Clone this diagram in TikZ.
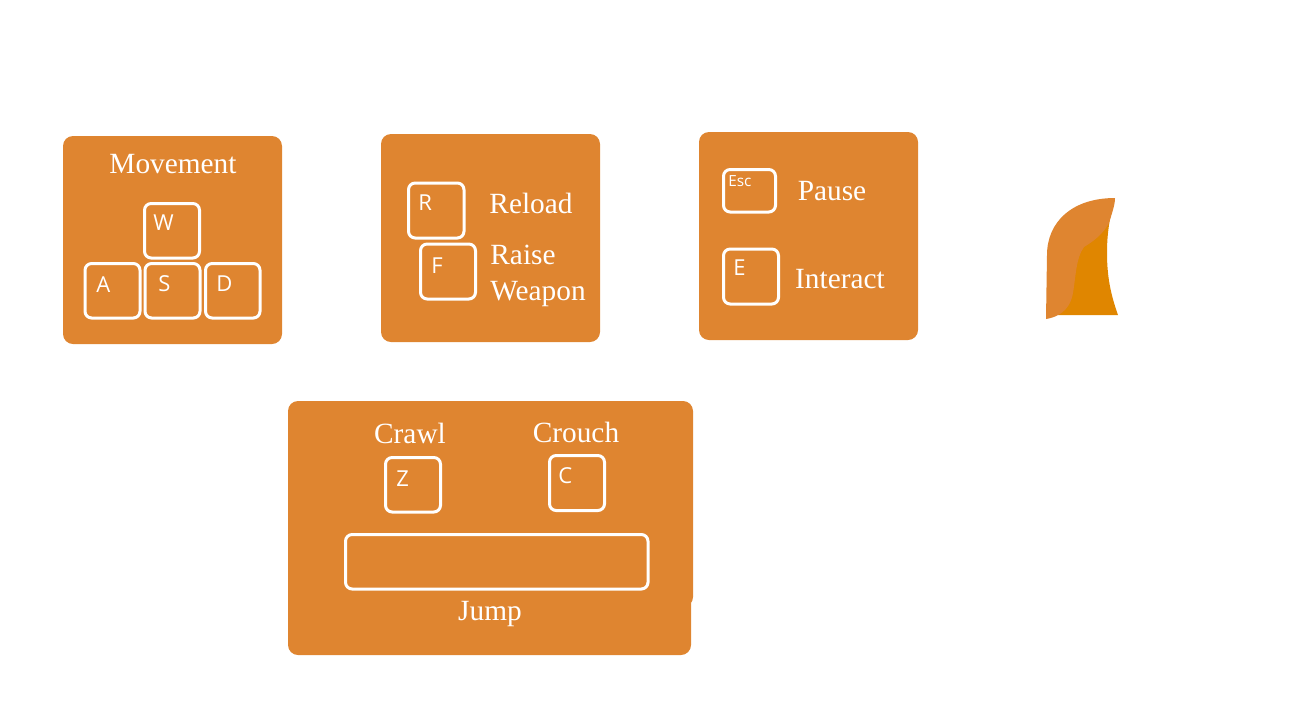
\documentclass[tikz,border=0pt]{standalone}
\usepackage{fontspec}
\setmainfont{Liberation Serif}
\newfontfamily\keyfont{Open Sans}
\definecolor{panelorange}{RGB}{223,133,48}
\definecolor{flameorange}{RGB}{224,134,0}
\tikzset{
  panelbox/.style={fill=panelorange,rounded corners=7.5},
  keybox/.style={draw=white,line width=2.25pt,rounded corners=5},
  keylabel/.style={anchor=base west,inner sep=0.75pt,text=white,font=\keyfont\fontsize{16.5}{20}\selectfont},
  actionlabel/.style={anchor=base,inner sep=0.75pt,text=white,font=\fontsize{22}{27}\selectfont}
}
\begin{document}
\begin{tikzpicture}[x=0.75pt,y=0.75pt,yscale=-1,xscale=1]
\useasboundingbox (0,0) rectangle (1290,701);

%Panels
\fill [panelbox] (63,136) rectangle (282,344);
\fill [panelbox] (381,134) rectangle (600,342);
\fill [panelbox] (699,132) rectangle (918,340);
\fill [panelbox] (288,401) rectangle (691,655);
\fill [panelbox] (600,401) rectangle (693,607);

%Movement keys
\draw [keybox] (144.5,203.5) rectangle (199.5,258);
\draw [keybox] (85,263.5) rectangle (140,318);
\draw [keybox] (145,263.5) rectangle (200,318);
\draw [keybox] (205.5,263.5) rectangle (260,318);
%Reload keys
\draw [keybox] (408.5,183) rectangle (464,238);
\draw [keybox] (420.5,244) rectangle (475.5,299);
%Pause keys
\draw [keybox] (723.5,169.5) rectangle (775.5,212);
\draw [keybox] (723.5,249) rectangle (778.5,304);
%Jump keys
\draw [keybox] (385.5,457.5) rectangle (440.5,512);
\draw [keybox] (549.5,455.5) rectangle (604.5,510.5);
\draw [keybox] (345.5,534.5) rectangle (648,589);

%Flame
\fill [flameorange] (1058,315) -- (1058,240) -- (1115,198) .. controls (1108,222) and (1107,240) .. (1107,253) .. controls (1107,280) and (1112,298) .. (1118,315) -- cycle;
\fill [panelorange] (1046,319) -- (1047,255) .. controls (1047,222) and (1072,198) .. (1115,198) .. controls (1115,205) and (1112,213) .. (1109,223) .. controls (1103,234) and (1094,241) .. (1084,247) .. controls (1076,258) and (1076,275) .. (1073,293) .. controls (1071,305) and (1064,316) .. (1046,319) -- cycle;

% Text Node
\node (movement) [actionlabel] at (173,173) {Movement};
\node (reload) [actionlabel] at (531,213) {Reload};
\node (raise) [actionlabel] at (523,264) {Raise};
\node (weapon) [actionlabel] at (538,300) {Weapon};
\node (pause) [actionlabel] at (832,200) {Pause};
\node (interact) [actionlabel] at (840,288) {Interact};
\node (crawl) [actionlabel] at (410,443) {Crawl};
\node (crouch) [actionlabel] at (576,442) {Crouch};
\node (jump) [actionlabel] at (490,620) {Jump};

\node (keyW) [keylabel] at (152,230) {W};
\node (keyA) [keylabel] at (95,292) {A};
\node (keyS) [keylabel] at (157,291) {S};
\node (keyD) [keylabel] at (215,291) {D};
\node (keyR) [keylabel] at (417,210) {R};
\node (keyF) [keylabel] at (430,273) {F};
\node (keyEsc) [keylabel,font=\keyfont\fontsize{11.5}{13}\selectfont] at (727,186) {Esc};
\node (keyE) [keylabel] at (732,275) {E};
\node (keyZ) [keylabel] at (395,486) {Z};
\node (keyC) [keylabel] at (557,483) {C};
\end{tikzpicture}
\end{document}
